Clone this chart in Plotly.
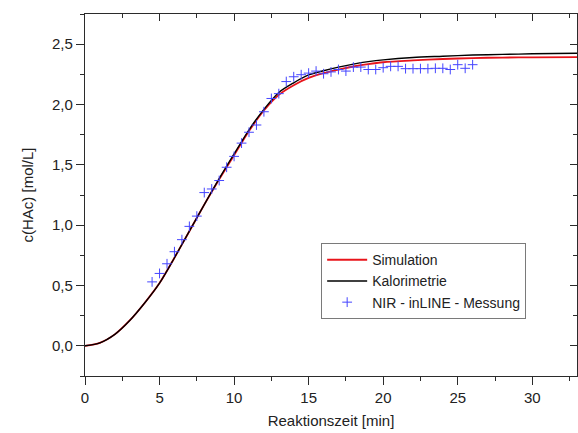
import plotly.graph_objects as go

# Reaktionszeit [min] for the model curves
t_model = [0, 1, 2, 3, 4, 5, 6, 7, 8, 9, 10, 11, 12, 13, 14, 15, 16, 17, 18,
           19, 20, 22, 24, 26, 28, 30, 33]

# c(HAc) from the simulation
c_simulation = [0.0, 0.025, 0.095, 0.21, 0.355, 0.52, 0.73, 0.95, 1.17, 1.38,
                1.58, 1.78, 1.95, 2.08, 2.16, 2.22, 2.26, 2.29, 2.315, 2.335,
                2.35, 2.365, 2.377, 2.385, 2.389, 2.391, 2.393]

# c(HAc) from calorimetry
c_kalorimetrie = [0.0, 0.025, 0.095, 0.21, 0.355, 0.52, 0.73, 0.95, 1.17, 1.385,
                  1.59, 1.79, 1.96, 2.10, 2.18, 2.245, 2.28, 2.31, 2.335, 2.355,
                  2.37, 2.39, 2.40, 2.41, 2.415, 2.42, 2.425]

# NIR inline measurement
t_nir = [4.5, 5.0, 5.5, 6.0, 6.5, 7.0, 7.5, 8.0, 8.5, 9.0, 9.5, 10.0, 10.5, 11.0,
         11.5, 12.0, 12.5, 13.0, 13.5, 14.0, 14.5, 15.0, 15.5, 16.0, 16.5, 17.0,
         17.5, 18.0, 18.5, 19.0, 19.5, 20.0, 20.5, 21.0, 21.5, 22.0, 22.5, 23.0,
         23.5, 24.0, 24.5, 25.0, 25.5, 26.0]
c_nir = [0.53, 0.60, 0.68, 0.78, 0.88, 0.99, 1.075, 1.27, 1.30, 1.37, 1.48, 1.57,
         1.68, 1.77, 1.83, 1.94, 2.05, 2.09, 2.19, 2.23, 2.247, 2.26, 2.277, 2.255,
         2.27, 2.29, 2.277, 2.31, 2.31, 2.29, 2.29, 2.305, 2.316, 2.316, 2.297,
         2.297, 2.297, 2.297, 2.30, 2.30, 2.29, 2.33, 2.30, 2.33]

x_ticks = [0, 5, 10, 15, 20, 25, 30]
y_ticks = [0.0, 0.5, 1.0, 1.5, 2.0, 2.5]
x_range = [0, 33]
y_range = [-0.25, 2.75]

FONT = "Liberation Sans, Arial, sans-serif"
AXIS_COLOR = "#2b2b2b"
TEXT_COLOR = "#222222"

fig = go.Figure()
fig.add_trace(go.Scatter(
    x=t_model, y=c_simulation, mode="lines", name="Simulation",
    line=dict(color="#e8141b", width=1.8, shape="spline", smoothing=0.8),
))
fig.add_trace(go.Scatter(
    x=t_model, y=c_kalorimetrie, mode="lines", name="Kalorimetrie",
    line=dict(color="#000000", width=1.4, shape="spline", smoothing=0.8),
))
fig.add_trace(go.Scatter(
    x=t_nir, y=c_nir, mode="markers", name="NIR - inLINE - Messung",
    marker=dict(symbol="cross-thin", size=7, color="#4545ff",
                line=dict(color="#4545ff", width=1)),
))
# empty trace so the top/right frame axes are laid out with their ticks
fig.add_trace(go.Scatter(x=[], y=[], xaxis="x2", yaxis="y2",
                         showlegend=False, hoverinfo="skip"))

axis_common = dict(
    showline=True, linecolor=AXIS_COLOR, linewidth=1.4,
    showgrid=False, zeroline=False,
    tickcolor=AXIS_COLOR, tickwidth=1.4,
    tickfont=dict(family=FONT, size=15, color=TEXT_COLOR),
)

fig.update_layout(
    width=578, height=433,
    margin=dict(l=85, r=1, t=14, b=57),
    paper_bgcolor="white", plot_bgcolor="white",
    separators=",.",
    font=dict(family=FONT, size=14, color=TEXT_COLOR),
    xaxis=dict(
        range=x_range, tickvals=x_ticks, ticks="outside", ticklen=8,
        minor=dict(ticks="outside", ticklen=4, dtick=2.5, tickcolor=AXIS_COLOR, tickwidth=1.2),
        title=dict(text="Reaktionszeit [min]", font=dict(family=FONT, size=15, color=TEXT_COLOR),
                   standoff=10),
        **axis_common,
    ),
    yaxis=dict(
        range=y_range, tickvals=y_ticks, tickformat=".1f", ticks="outside", ticklen=8,
        minor=dict(ticks="outside", ticklen=4, dtick=0.25, tick0=0, tickcolor=AXIS_COLOR, tickwidth=1.2),
        title=dict(text="c(HAc) [mol/L]", font=dict(family=FONT, size=15, color=TEXT_COLOR),
                   standoff=14),
        **axis_common,
    ),
    xaxis2=dict(
        range=x_range, overlaying="x", side="top", showticklabels=False,
        ticks="inside", ticklen=7, tickvals=x_ticks,
        minor=dict(ticks="inside", ticklen=4, dtick=2.5, tickcolor=AXIS_COLOR, tickwidth=1.2),
        **axis_common,
    ),
    yaxis2=dict(
        range=y_range, overlaying="y", side="right", showticklabels=False,
        ticks="inside", ticklen=7, tickvals=y_ticks,
        minor=dict(ticks="inside", ticklen=4, dtick=0.25, tick0=0, tickcolor=AXIS_COLOR, tickwidth=1.2),
        **axis_common,
    ),
    legend=dict(
        x=0.48, y=0.367, xanchor="left", yanchor="top",
        bgcolor="white", bordercolor="#7a7a7a", borderwidth=1,
        font=dict(family=FONT, size=14, color=TEXT_COLOR),
        tracegroupgap=0, itemwidth=40,
    ),
    showlegend=True,
)

fig.write_html("out.html")
